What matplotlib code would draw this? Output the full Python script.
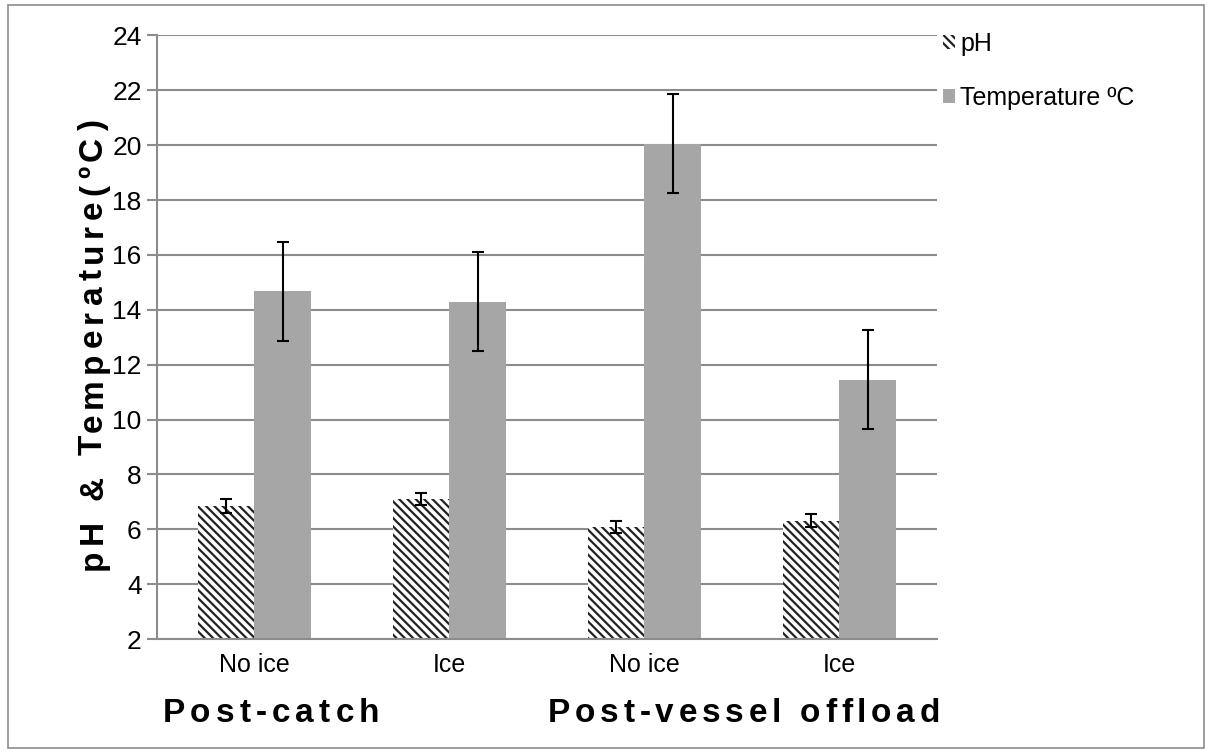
import numpy as np
import matplotlib.pyplot as plt
from matplotlib.patches import Rectangle

plt.rcParams['font.family'] = ['Liberation Sans', 'DejaVu Sans']
plt.rcParams['hatch.linewidth'] = 1.6

conditions = ["No ice", "Ice", "No ice", "Ice"]
stages = ["Post-catch", "Post-vessel offload"]
ph_mean = [6.85, 7.1, 6.08, 6.32]
ph_err = [0.24, 0.23, 0.23, 0.23]
temp_mean = [14.68, 14.3, 20.05, 11.45]
temp_err = [1.8, 1.8, 1.8, 1.8]

W, H = 1212, 755
grid_grey = "#8c8c8c"


def spaced_text(fig, s, cx, base, length, rotation=0, **kw):
    """Draw s letter by letter, stretched to `length` pixels.

    cx/base are pixel coords from the top-left; base is the baseline
    (for rotation=90 cx is the baseline and base the centre)."""
    r = fig.canvas.get_renderer()

    def width(t):
        tmp = fig.text(0, 0, t, **kw)
        w = tmp.get_window_extent(r).width
        tmp.remove()
        return w

    gap = (length - width(s)) / (len(s) - 1)
    for i, ch in enumerate(s):
        if ch == " ":
            continue
        cw = width(ch)
        left = width(s[:i + 1]) - cw + i * gap
        mid = -length / 2 + left + cw / 2
        if rotation == 90:
            px, py = cx, base - mid
        else:
            px, py = cx + mid, base
        fig.text(px / W, 1 - py / H, ch, rotation=rotation,
                 rotation_mode="anchor", ha="center", va="baseline", **kw)


fig = plt.figure(figsize=(W / 100, H / 100), dpi=100)
ax = fig.add_axes([0.1295, 0.1536, 0.6436, 0.7994])

x = np.arange(len(conditions))
w = 0.29
ax.bar(x - w / 2, ph_mean, w, color="white", edgecolor="#222222",
       linewidth=0, hatch="\\\\\\\\", label="pH", zorder=2)
ax.bar(x + w / 2, temp_mean, w, color="#a6a6a6", linewidth=0,
       label="Temperature ºC", zorder=2)
ax.errorbar(x - w / 2, ph_mean, yerr=ph_err, fmt="none", ecolor="black",
            elinewidth=1.5, capsize=4.5, capthick=1.5, zorder=3)
ax.errorbar(x + w / 2, temp_mean, yerr=temp_err, fmt="none", ecolor="black",
            elinewidth=1.5, capsize=4.5, capthick=1.5, zorder=3)

ax.set_xlim(-0.5, 3.5)
ax.set_ylim(2, 24)
ax.set_yticks(np.arange(2, 25, 2))
ax.yaxis.grid(True, color=grid_grey, linewidth=1.5, zorder=0)
ax.set_axisbelow(True)

for side in ("top", "right"):
    ax.spines[side].set_visible(False)
for side in ("left", "bottom"):
    ax.spines[side].set_color(grid_grey)
    ax.spines[side].set_linewidth(1.5)

ax.tick_params(axis="y", length=7, width=1.5, color=grid_grey,
               labelsize=19, pad=4)
ax.tick_params(axis="x", length=0, labelsize=18, pad=10)
ax.set_xticks(x)
ax.set_xticklabels(conditions)

# axis title and stage names are letter-spaced
spaced_text(fig, "pH & Temperature(ºC)", 102, 345, 450, rotation=90,
            fontsize=24, fontweight="bold")
spaced_text(fig, stages[0], 271, 722, 217, fontsize=24, fontweight="bold")
spaced_text(fig, stages[1], 744, 722, 392, fontsize=24, fontweight="bold")

ax.legend(loc="upper left", bbox_to_anchor=(943 / W, 1 - 32 / H),
          bbox_transform=fig.transFigure, frameon=False, borderpad=0,
          borderaxespad=0, fontsize=18, handlelength=0.5, handleheight=0.5,
          handletextpad=0.2, labelspacing=1.2)

fig.patches.append(Rectangle((0.007, 0.009), 0.986, 0.984, transform=fig.transFigure,
                             fill=False, edgecolor="#8c8c8c", linewidth=1.2))

fig.savefig("out.png", dpi=100)
